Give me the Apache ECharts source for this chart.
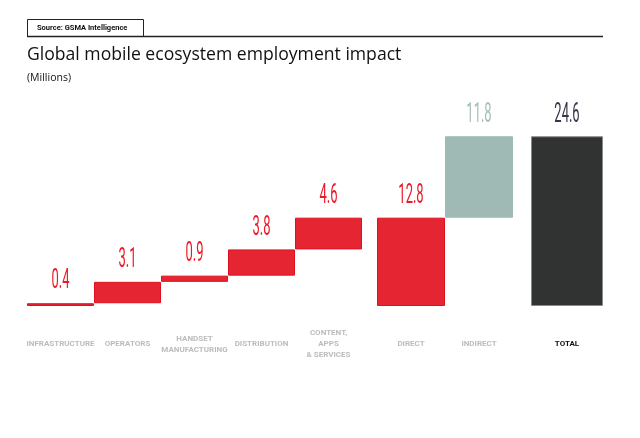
<!DOCTYPE html>
<html>
<head>
<meta charset="utf-8">
<script src="https://cdn.jsdelivr.net/npm/echarts@6/dist/echarts.min.js"></script>
<style>
  html, body { margin: 0; padding: 0; background: #fff; }
  #chart { width: 640px; height: 438px; }
</style>
</head>
<body>
<div id="chart"></div>
<script>
const categories = ['INFRASTRUCTURE', 'OPERATORS', 'HANDSET\nMANUFACTURING', 'DISTRIBUTION',
  'CONTENT,\nAPPS\n& SERVICES', 'DIRECT', 'INDIRECT', 'TOTAL'];
const values = [0.4, 3.1, 0.9, 3.8, 4.6, 12.8, 11.8, 24.6];
// which categories sit together in each block of the chart
const groups = [[0, 1, 2, 3, 4], [5, 6], [7]];

// waterfall bases: the five parts step up, direct starts at 0,
// indirect sits on top of direct, total starts at 0
const bases = [];
let run = 0;
for (let i = 0; i < 5; i++) { bases.push(run); run += values[i]; }
bases.push(0, values[5], 0);

const RED = '#e52532';
const barColor = i => i === 6 ? '#9fbab4' : i === 7 ? '#313333' : RED;
const barBorder = i => i === 6 ? '#9fbab4' : i === 7 ? '#8a8a8a' : '#e0101f';
const labelColor = i => i === 6 ? '#a3bfba' : i === 7 ? '#38344a' : '#ee1826';

const gridBoxes = [
  { left: 27, width: 335 },
  { left: 377, width: 136 },
  { left: 531, width: 72 }
];

function buildOption() {
  const grid = [], xAxis = [], yAxis = [], series = [];
  groups.forEach((idx, g) => {
    grid.push({ left: gridBoxes[g].left, width: gridBoxes[g].width, top: 99, bottom: 132 });
    xAxis.push({
      type: 'category', gridIndex: g,
      data: idx.map(i => categories[i]),
      axisLine: { show: false }, axisTick: { show: false },
      axisLabel: {
        interval: 0, hideOverlap: false, margin: 38,
        verticalAlign: 'middle', lineHeight: 11,
        fontFamily: 'Liberation Sans Narrow, Roboto, sans-serif',
        fontWeight: 'bold', fontSize: 8,
        color: v => v === 'TOTAL' ? '#111' : '#bcbcbc'
      }
    });
    yAxis.push({ type: 'value', gridIndex: g, min: 0, max: 30, show: false });
    series.push({
      type: 'bar', xAxisIndex: g, yAxisIndex: g, stack: 'w' + g,
      barCategoryGap: 0, silent: true,
      itemStyle: { color: 'transparent' },
      data: idx.map(i => bases[i])
    });
    series.push({
      type: 'bar', xAxisIndex: g, yAxisIndex: g, stack: 'w' + g,
      barCategoryGap: 0,
      data: idx.map(i => ({
        value: values[i],
        itemStyle: { color: barColor(i), borderColor: barBorder(i), borderWidth: 1 }
      }))
    });
    // value labels, drawn narrow like the condensed face in the original
    series.push({
      type: 'custom', xAxisIndex: g, yAxisIndex: g, silent: true,
      data: idx.map((i, k) => [k, bases[i] + values[i], values[i], i]),
      renderItem: (params, api) => {
        const pt = api.coord([api.value(0), api.value(1)]);
        const i = api.value(3);
        return {
          type: 'text', x: pt[0], y: pt[1] - 8, scaleX: 0.48,
          style: {
            text: api.value(2).toFixed(1),
            fill: labelColor(i),
            font: '400 27px Roboto, sans-serif',
            align: 'center', verticalAlign: 'bottom'
          }
        };
      }
    });
  });

  return {
    animation: false,
    backgroundColor: '#fff',
    title: [
      {
        text: 'Global mobile ecosystem employment impact',
        left: 22, top: 41,
        textStyle: { fontFamily: 'Open Sans, sans-serif', fontWeight: 'normal', fontSize: 17.6, color: '#111' }
      },
      {
        text: '(Millions)',
        left: 22, top: 68,
        textStyle: { fontFamily: 'Open Sans, sans-serif', fontWeight: 'normal', fontSize: 10.5, color: '#111' }
      }
    ],
    graphic: [
      { type: 'rect', shape: { x: 27.5, y: 19.5, width: 116, height: 17 },
        style: { fill: 'none', stroke: '#222', lineWidth: 1 } },
      { type: 'line', shape: { x1: 27, y1: 36.5, x2: 603, y2: 36.5 },
        style: { stroke: '#222', lineWidth: 1.5 } },
      { type: 'text', x: 37, y: 28,
        style: { text: 'Source: GSMA Intelligence', fill: '#111',
          font: 'bold 7.5px Roboto, sans-serif', verticalAlign: 'middle' } }
    ],
    grid, xAxis, yAxis, series
  };
}

const chart = echarts.init(document.getElementById('chart'));
chart.setOption(buildOption());
</script>
</body>
</html>
